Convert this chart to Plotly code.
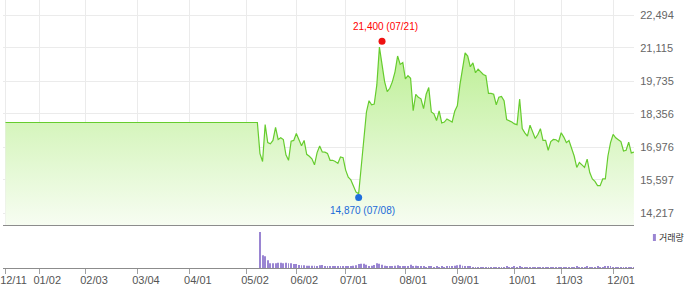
import plotly.graph_objects as go

# ---- data ----
tick_days = [0, 13, 31, 51, 71, 93, 112, 131, 154, 174, 196, 214, 234]
tick_labels = ["12/11", "01/02", "02/03", "03/04", "04/01", "05/02", "06/02",
               "07/01", "08/01", "09/01", "10/01", "11/03", "12/01"]

base_days = [0, 97]          # before listing: flat base price
base_price = 18000
listing_start = 98           # first trading day index with real prices

listing_prices = [
    16700, 16370, 17910, 17160, 17110, 17250, 17800, 17290, 17360, 17290,
    16650, 16420, 17220, 17250, 17540, 17250, 17030, 17250, 16670, 16590,
    16480, 16230, 16740, 17020, 16770, 16760, 16710, 16420, 16420, 16370,
    16290, 16560, 16530, 16010, 15710, 15600, 15320, 15090, 15020, 16120,
    17360, 18440, 18910, 18740, 18770, 19570, 21150, 20400, 19710, 19290,
    19430, 19710, 20120, 20780, 20430, 20510, 19820, 19960, 19850, 18490,
    19180, 19050, 18990, 18580, 19180, 19460, 18440, 18360, 18080, 18490,
    17980, 18020, 18150, 18080, 18020, 18470, 18700, 19570, 20260, 20910,
    20780, 20330, 20490, 20080, 20230, 20120, 20010, 19960, 19220, 19220,
    19180, 18740, 19060, 19090, 18910, 18120, 18080, 18020, 17940, 17910,
    18980, 17750, 17570, 17430, 17890, 17570, 17330, 17500, 17740, 17250,
    17250, 16840, 17200, 17290, 17280, 17200, 17570, 17390, 17160, 17250,
    16950, 16600, 16120, 16330, 16230, 16120, 16470, 15910, 15640, 15540,
    15360, 15360, 15640, 15640, 16600, 17160, 17500, 17360, 17280, 17200,
    16810, 16840, 17180, 16730, 16760,
]

volumes = [
    3600, 1270, 1170, 770, 470, 470, 470, 530, 530, 470, 530, 470, 470, 400,
    400, 300, 270, 270, 230, 230, 230, 230, 200, 270, 300, 170, 130, 130, 130, 170, 130, 170, 170,
    200, 170, 200, 230, 270, 400, 430, 430, 330, 200,
    230, 300, 470, 430, 330, 230, 200, 170, 200, 230,
    270, 200, 170, 130, 200, 330, 200, 230, 170, 130,
    130, 100, 170, 130, 100, 130, 100, 130, 100, 130,
    170, 200, 230, 270, 330, 230, 200, 170, 130, 100,
    60, 100, 60, 60, 100, 60, 100, 60, 100, 60,
    100, 60, 130, 100, 100, 130, 60, 130, 100, 60,
    100, 60, 100, 60, 100, 60, 100, 100, 60, 100,
    60, 100, 100, 60, 60, 100, 60, 100, 60, 130,
    60, 100, 60, 130, 100, 60, 100, 130, 60, 100,
    130, 170, 130, 100, 60, 100, 60, 100, 60, 100, 60, 100,
]

price_ticks = [14217, 15597, 16976, 18356, 19735, 21115, 22494]

high_day, high_price, high_label = 145, 21400, "21,400 (07/21)"
low_day, low_price, low_label = 136, 14870, "14,870 (07/08)"
volume_name = "거래량"

# ---- build ----
listing_days = list(range(listing_start, listing_start + len(listing_prices)))
days = base_days + listing_days
prices = [base_price] * len(base_days) + listing_prices

x_range = [-0.96, 242.04]
y_range = [13715, 23121]

fig = go.Figure()
fig.add_trace(go.Scatter(
    x=days, y=prices, mode="lines",
    line=dict(color="#66cc2e", width=1.2),
    fill="tozeroy",
    fillgradient=dict(type="vertical",
                      colorscale=[[0, "rgb(247,253,242)"], [1, "rgb(188,239,148)"]],
                      start=y_range[0], stop=max(listing_prices)),
    hoverinfo="skip", xaxis="x", yaxis="y"))

fig.add_trace(go.Scatter(x=[high_day], y=[high_price], mode="markers",
                         marker=dict(color="#ee1111", size=7), xaxis="x", yaxis="y"))
fig.add_trace(go.Scatter(x=[low_day], y=[low_price], mode="markers",
                         marker=dict(color="#1f6fdc", size=7), xaxis="x", yaxis="y"))

fig.add_trace(go.Bar(x=listing_days, y=volumes, width=0.36,
                     marker=dict(color="#9a85d2", line=dict(width=0)),
                     xaxis="x2", yaxis="y2"))

font_main = "Liberation Sans, Arial, sans-serif"

fig.update_layout(
    width=700, height=289,
    margin=dict(l=0, r=66, t=0, b=21),
    paper_bgcolor="white", plot_bgcolor="white",
    showlegend=False,
    xaxis=dict(range=x_range, tickvals=tick_days, showticklabels=False,
               showgrid=True, gridcolor="#ebebeb", gridwidth=1, zeroline=False,
               showline=True, linecolor="#8c8c8c", linewidth=1, ticks="",
               anchor="y", fixedrange=True),
    yaxis=dict(domain=[0.1604, 1], range=y_range, tickvals=price_ticks,
               ticktext=[f"{v:,}" for v in price_ticks], side="right",
               showgrid=True, gridcolor="#ebebeb", gridwidth=1, zeroline=False,
               showline=False, ticks="outside", ticklen=3,
               tickcolor="rgba(0,0,0,0)",
               tickfont=dict(family=font_main, size=11, color="#666666"),
               anchor="x"),
    xaxis2=dict(range=x_range, matches="x", tickvals=tick_days, ticktext=tick_labels,
                showgrid=False, zeroline=False, showline=True, linecolor="#8c8c8c",
                linewidth=1, ticks="outside", ticklen=5, tickcolor="#a0a0a0",
                ticklabelshift=8, ticklabelstandoff=-3, ticklabeloverflow="allow",
                tickfont=dict(family=font_main, size=11, color="#555555"),
                anchor="y2"),
    yaxis2=dict(domain=[0, 0.1567], range=[0, max(volumes) * 42 / 36],
                visible=False, anchor="x2"),
    annotations=[
        dict(x=high_day, y=high_price, xref="x", yref="y", text=high_label,
             showarrow=False, xshift=3, yshift=15,
             font=dict(family=font_main, size=10, color="#ff0000")),
        dict(x=low_day, y=low_price, xref="x", yref="y", text=low_label,
             showarrow=False, xshift=4, yshift=-13,
             font=dict(family=font_main, size=10, color="#1a6ad8")),
        dict(x=657 / 634, y=1 - 237.5 / 268, xref="paper", yref="paper",
             text=volume_name, showarrow=False, xanchor="left", yanchor="middle",
             font=dict(family="Noto Sans CJK KR", size=9, color="#333333")),
    ],
    shapes=[dict(type="rect", xref="paper", yref="paper",
                 x0=653 / 634, x1=656 / 634, y0=1 - 241 / 268, y1=1 - 234 / 268,
                 fillcolor="#9a85d2", line=dict(width=0))],
)

fig.write_html("out.html")
